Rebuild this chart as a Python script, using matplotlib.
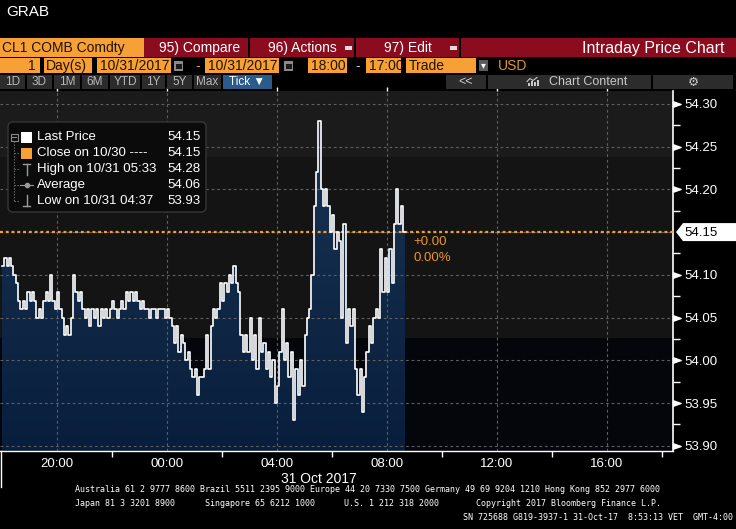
import numpy as np
import matplotlib
matplotlib.use('Agg')
import matplotlib.pyplot as plt
from matplotlib.patches import Rectangle, Polygon, FancyBboxPatch
from matplotlib.path import Path
from matplotlib.colors import LinearSegmentedColormap

# CL1 trade prices, one reading every 5 minutes starting 18:00 on 10/30
prices = [
    54.11, 54.12, 54.11, 54.12, 54.11, 54.10, 54.09, 54.07, 54.06, 54.07,
    54.06, 54.08, 54.07, 54.08, 54.07, 54.05, 54.06, 54.05, 54.07, 54.08,
    54.07, 54.10, 54.07, 54.06, 54.08, 54.06, 54.05, 54.03, 54.04, 54.03,
    54.05, 54.10, 54.08, 54.07, 54.08, 54.06, 54.05, 54.06, 54.04, 54.06,
    54.05, 54.06, 54.04, 54.06, 54.05, 54.06, 54.05, 54.06, 54.07, 54.06,
    54.05, 54.06, 54.07, 54.06, 54.08, 54.07, 54.08, 54.07, 54.08, 54.07,
    54.06, 54.07, 54.06, 54.06, 54.05, 54.06, 54.06, 54.05, 54.06, 54.06,
    54.06, 54.05, 54.06, 54.05, 54.04, 54.02, 54.04, 54.01, 54.03, 54.02,
    54.00, 54.01, 53.99, 53.98, 53.99, 53.96, 53.98, 53.98, 53.99, 54.03,
    53.99, 54.04, 54.06, 54.05, 54.06, 54.09, 54.07, 54.09, 54.08, 54.10,
    54.09, 54.11, 54.09, 54.08, 54.03, 54.01, 54.03, 54.01, 54.05, 54.00,
    54.03, 53.99, 54.05, 54.01, 54.02, 53.99, 54.01, 53.98, 54.00, 53.95,
    53.97, 54.01, 54.06, 54.00, 54.02, 53.98, 54.01, 53.93, 53.99, 53.96,
    54.00, 53.97, 54.03, 54.05, 54.06, 54.10, 54.18, 54.22, 54.28, 54.20,
    54.18, 54.20, 54.18, 54.15, 54.17, 54.13, 54.15, 54.14, 54.05, 54.16,
    54.02, 54.06, 54.04, 54.06, 53.99, 53.96, 53.99, 53.94, 53.98, 54.01,
    54.04, 54.02, 54.05, 54.06, 54.05, 54.13, 54.08, 54.12, 54.08, 54.13,
    54.09, 54.16, 54.20, 54.16, 54.18, 54.15,
]
step_min = 5
times = np.arange(len(prices)) * step_min  # minutes after 18:00
close_prev = 54.15

y_ticks = [53.90, 53.95, 54.00, 54.05, 54.10, 54.15, 54.20, 54.25, 54.30]
y_minor = [53.925, 53.975, 54.025, 54.075, 54.125, 54.175, 54.225, 54.275]
x_ticks = [120, 360, 600, 840, 1080, 1320]
x_labels = ['20:00', '00:00', '04:00', '08:00', '12:00', '16:00']
x_minor = [240, 480, 720, 960, 1200, 1440]

legend_labels = ['Last Price', 'Close on 10/30 ----', 'High on 10/31 05:33', 'Average', 'Low on 10/31 04:37']
legend_values = ['54.15', '54.15', '54.28', '54.06', '53.93']

ORANGE = '#f6a035'
RED = '#8a0c1e'
BTN = '#2c2c2c'
FONT = ['Liberation Sans', 'DejaVu Sans']

W, H = 736, 529
fig = plt.figure(figsize=(W / 100, H / 100), dpi=100, facecolor='black')
plt.rcParams['font.family'] = FONT

# ---- main chart
ax = fig.add_axes([0, 1 - 451 / H, 673 / W, (451 - 91) / H])
ax.set_facecolor('#141414')
ymin, ymax = 53.894, 54.315
ax.axhspan(54.238, ymax, color='#1b1b1b', lw=0, zorder=0)
ax.axhspan(ymin, 54.026, color='#04060b', lw=0, zorder=0)

xs = np.append(times, times[-1] + step_min)
ys = np.append(prices, prices[-1])
sx = np.repeat(xs, 2)[1:]
sy = np.repeat(ys, 2)[:-1]
verts = np.column_stack([np.r_[sx[0], sx, sx[-1]], np.r_[ymin, sy, ymin]])
clip = Polygon(verts, closed=True, fc='none', ec='none', transform=ax.transData)
ax.add_patch(clip)
cmap = LinearSegmentedColormap.from_list('fillgrad', ['#081e3c', '#1a3554'])
grad = np.linspace(0, 1, 256).reshape(-1, 1)
im = ax.imshow(grad, extent=[xs[0], xs[-1], ymin, 54.30], origin='lower',
               aspect='auto', cmap=cmap, zorder=1)
im.set_clip_path(clip)

for y in y_ticks:
    ax.axhline(y, color='#5f5f5f', lw=0.8, ls=(0, (2.5, 2.5)), zorder=2)
for x in x_ticks:
    ax.axvline(x, color='#5f5f5f', lw=0.8, ls=(0, (2.5, 2.5)), zorder=2)
ax.axhline(close_prev, color='#f5a02c', lw=1.6, ls=(0, (1.3, 1.3)), zorder=3)
ax.plot(xs, ys, drawstyle='steps-post', color='white', lw=1.2, zorder=4)

ax.set_xlim(-4.4, 1464)
ax.set_ylim(ymin, ymax)

for s in ['top', 'left']:
    ax.spines[s].set_visible(False)
ax.spines['right'].set_color('white')
ax.spines['right'].set_linewidth(1.2)
ax.spines['bottom'].set_color('white')
ax.spines['bottom'].set_linewidth(1.0)

ax.yaxis.tick_right()
ax.set_yticks(y_ticks, ['' if abs(v - close_prev) < 1e-6 else '%.2f' % v for v in y_ticks])
ax.set_yticks(y_minor, minor=True)
ax.tick_params(axis='y', which='major', length=0, pad=8, labelcolor='white', labelsize=9.5)
ax.tick_params(axis='y', which='minor', length=5, width=1, color='white')
tri = Path([(0, -0.35), (1, 0), (0, 0.35), (0, -0.35)])
marks = [v for v in y_ticks if abs(v - close_prev) > 1e-6]
ax.plot([1.0] * len(marks), marks, ls='none', marker=tri, ms=11, color='white',
        transform=ax.get_yaxis_transform(), clip_on=False, zorder=6)

ax.set_xticks(x_ticks, x_labels)
ax.set_xticks(x_minor, minor=True)
ax.tick_params(axis='x', which='major', length=0, pad=5, labelcolor='white', labelsize=9.5)
ax.tick_params(axis='x', which='minor', length=4, width=1, color='white')
top = ax.secondary_xaxis('top')
top.set_xticks(x_ticks)
top.set_xticklabels([])
top.tick_params(length=3, width=1, color='white')
top.spines['top'].set_visible(False)

ax.annotate('+0.00', xy=(xs[-1], close_prev), xytext=(6, -7), textcoords='offset points',
            color='#e8952b', fontsize=9.5, va='center', ha='left')
ax.annotate('0.00%', xy=(xs[-1], close_prev), xytext=(6, -19), textcoords='offset points',
            color='#e8952b', fontsize=9.5, va='center', ha='left')

# ---- screen chrome, drawn in pixel coordinates
ov = fig.add_axes([0, 0, 1, 1], zorder=5)
ov.set_xlim(0, W)
ov.set_ylim(H, 0)
ov.axis('off')


def box(x0, y0, x1, y1, color, **kw):
    ov.add_patch(Rectangle((x0, y0), x1 - x0, y1 - y0, fc=color, ec='none', **kw))


def txt(x, y, s, color='white', size=10, ha='left', **kw):
    ov.text(x, y, s, color=color, fontsize=size, ha=ha, va='center', **kw)


txt(6, 12, 'GRAB', size=11)

# row 1
box(0, 38, 144, 57, ORANGE)
txt(2, 48, 'CL1 COMB Comdty', color='#1f1300', size=10)
for x0, x1 in [(144, 248), (250, 354), (356, 459), (461, 736)]:
    box(x0, 38, x1, 57, RED)
txt(159, 48, '95) Compare')
txt(268, 48, '96) Actions')
box(345, 46, 352, 50, '#dddddd')
txt(384, 48, '97) Edit')
box(450, 46, 457, 50, '#dddddd')
txt(725, 48, 'Intraday Price Chart', size=11.5, ha='right')

# row 2
dark = '#1f1300'
box(0, 58, 40, 73, ORANGE)
txt(36, 66, '1', color=dark, ha='right')
box(44, 58, 92, 73, ORANGE)
txt(46, 66, 'Day(s)', color=dark)
for x0, x1, s in [(97, 171, '10/31/2017'), (205, 279, '10/31/2017'),
                  (308, 347, '18:00'), (366, 401, '17:00'), (406, 476, 'Trade')]:
    box(x0, 58, x1, 73, ORANGE)
    txt(x0 + 3, 66, s, color=dark)
for x0 in [174, 284]:
    box(x0, 60.5, x0 + 9, 70.5, '#8a8a8a')
    box(x0 + 1.5, 63.5, x0 + 7.5, 69, '#1a1a1a')
txt(195, 66, '-', color=ORANGE)
txt(355, 66, '-', color='#cccccc')
box(479, 60, 488, 71, '#5a5a5a')
txt(483.5, 65.5, '\u25be', size=7, ha='center')
txt(498, 66, 'USD', color='#e0962e')

# row 3
for x0, x1, s in [(0, 25, '1D'), (27, 52, '3D'), (54, 80, '1M'), (82, 108, '6M'),
                  (110, 140, 'YTD'), (142, 165, '1Y'), (167, 192, '5Y'), (194, 221, 'Max')]:
    box(x0, 75, x1, 89, BTN)
    txt((x0 + x1) / 2, 82, s, color='#b8b8b8', size=8.5, ha='center')
box(223, 75, 272, 89, '#2a5b8b')
txt(247, 82, 'Tick \u25bc', size=8.5, ha='center')
for x0, x1 in [(446, 486), (488, 651), (653, 733)]:
    box(x0, 75, x1, 89, BTN)
txt(466, 82, '<<', color='#d0d0d0', size=9, ha='center')
ov.plot([527, 530, 533, 537], [81.5, 78.5, 80.5, 77.5], color='#c8c8c8', lw=0.8)
for bx, bh in [(528, 3), (531, 5), (534, 4), (537, 6)]:
    box(bx, 86 - bh, bx + 1.6, 86, '#c8c8c8')
txt(549, 82, 'Chart Content', color='#c8c8c8', size=9)
txt(693, 82, '\u2699', color='#c8c8c8', size=9, ha='center', family='DejaVu Sans')

# legend
ov.add_patch(FancyBboxPatch((8, 122), 198, 90, boxstyle='round,pad=0,rounding_size=5',
                            fc='#0b0b0b', ec='#363636', lw=1))
rows = [137, 153, 169, 185, 201]
ov.add_patch(Rectangle((10.5, 133.5), 7, 7, fc='none', ec='#8a8a8a', lw=0.8))
ov.plot([12, 16], [137, 137], color='#8a8a8a', lw=0.8)
ov.plot([14, 14], [141, 201], color='#6a6a6a', lw=0.7, ls=(0, (1.5, 1.5)))
for r in rows[1:]:
    ov.plot([14, 19], [r, r], color='#6a6a6a', lw=0.7, ls=(0, (1.5, 1.5)))
box(21, 131.5, 32, 142.5, 'white')
box(21, 147.5, 32, 158.5, ORANGE)
ov.plot([26.5, 26.5], [164, 175], color='#9a9a9a', lw=1)
ov.plot([23, 30], [164, 164], color='#9a9a9a', lw=1)
ov.plot([20, 33], [185, 185], color='#9a9a9a', lw=0.8)
ov.plot([26.5], [185], marker='o', ms=3, color='#9a9a9a')
ov.plot([26.5, 26.5], [195, 206], color='#9a9a9a', lw=1)
ov.plot([23, 30], [206, 206], color='#9a9a9a', lw=1)
for r, lab, val in zip(rows, legend_labels, legend_values):
    txt(37, r, lab, size=9.5)
    txt(167, r, val, size=9.5)

# last-price tag on the right axis
ty = H - ax.transData.transform((0, prices[-1]))[1]
ov.add_patch(Polygon([(676, ty), (683, ty - 9), (736, ty - 9), (736, ty + 9), (683, ty + 9)],
                     closed=True, fc='white', ec='none'))
txt(684, ty + 0.5, '%.2f' % prices[-1], color='black', size=9.5)

# date and footer
txt(319, 479, '31 Oct 2017', size=10, ha='center')
ov.plot([1, 1], [451, 487], color='white', lw=1)
mono = dict(size=6, family='DejaVu Sans Mono')
txt(75, 490, 'Australia 61 2 9777 8600 Brazil 5511 2395 9000 Europe 44 20 7330 7500 '
             'Germany 49 69 9204 1210 Hong Kong 852 2977 6000', **mono)
txt(75, 504, 'Japan 81 3 3201 8900', **mono)
txt(205, 504, 'Singapore 65 6212 1000', **mono)
txt(344, 504, 'U.S. 1 212 318 2000', **mono)
txt(476, 504, 'Copyright 2017 Bloomberg Finance L.P.', **mono)
txt(733, 518, 'SN 725688 G819-3937-1 31-Oct-17  8:53:13 VET  GMT-4:00', ha='right', **mono)

fig.savefig('out.png', dpi=100, facecolor='black')
